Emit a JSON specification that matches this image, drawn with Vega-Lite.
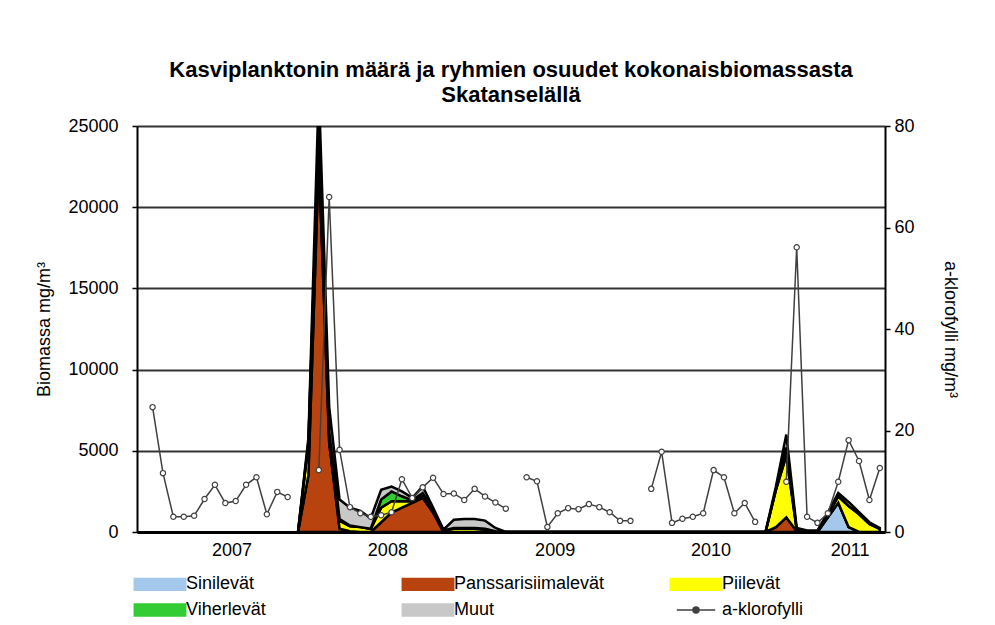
{
  "$schema": "https://vega.github.io/schema/vega-lite/v6.json",
  "width": 748,
  "height": 406,
  "autosize": "none",
  "padding": {"left": 137, "top": 126, "right": 110, "bottom": 93},
  "background": "white",
  "title": {
    "text": ["Kasviplanktonin määrä ja ryhmien osuudet kokonaisbiomassasta", "Skatanselällä"],
    "font": "Liberation Sans",
    "fontSize": 22,
    "fontWeight": "bold",
    "color": "black",
    "anchor": "middle",
    "lineHeight": 25,
    "offset": 10
  },
  "datasets": {
    "bio": [
      {"c": 15, "Sinilevät": 0, "Panssarisiimalevät": 0, "Piilevät": 0, "Viherlevät": 0, "Muut": 0},
      {"c": 16, "Sinilevät": 0, "Panssarisiimalevät": 3500, "Piilevät": 2000, "Viherlevät": 0, "Muut": 300},
      {"c": 17, "Sinilevät": 0, "Panssarisiimalevät": 23000, "Piilevät": 1500, "Viherlevät": 300, "Muut": 2500},
      {"c": 18, "Sinilevät": 0, "Panssarisiimalevät": 5500, "Piilevät": 600, "Viherlevät": 100, "Muut": 1500},
      {"c": 19, "Sinilevät": 0, "Panssarisiimalevät": 200, "Piilevät": 500, "Viherlevät": 100, "Muut": 1200},
      {"c": 20, "Sinilevät": 0, "Panssarisiimalevät": 50, "Piilevät": 300, "Viherlevät": 50, "Muut": 1100},
      {"c": 21, "Sinilevät": 0, "Panssarisiimalevät": 0, "Piilevät": 300, "Viherlevät": 0, "Muut": 1000},
      {"c": 22, "Sinilevät": 0, "Panssarisiimalevät": 0, "Piilevät": 200, "Viherlevät": 0, "Muut": 650},
      {"c": 23, "Sinilevät": 0, "Panssarisiimalevät": 600, "Piilevät": 900, "Viherlevät": 500, "Muut": 600},
      {"c": 24, "Sinilevät": 0, "Panssarisiimalevät": 1200, "Piilevät": 700, "Viherlevät": 600, "Muut": 300},
      {"c": 25, "Sinilevät": 0, "Panssarisiimalevät": 1500, "Piilevät": 400, "Viherlevät": 300, "Muut": 300},
      {"c": 26, "Sinilevät": 0, "Panssarisiimalevät": 1800, "Piilevät": 100, "Viherlevät": 50, "Muut": 150},
      {"c": 27, "Sinilevät": 0, "Panssarisiimalevät": 2100, "Piilevät": 200, "Viherlevät": 100, "Muut": 400},
      {"c": 28, "Sinilevät": 0, "Panssarisiimalevät": 1200, "Piilevät": 100, "Viherlevät": 0, "Muut": 200},
      {"c": 29, "Sinilevät": 0, "Panssarisiimalevät": 0, "Piilevät": 100, "Viherlevät": 0, "Muut": 50},
      {"c": 30, "Sinilevät": 0, "Panssarisiimalevät": 0, "Piilevät": 200, "Viherlevät": 50, "Muut": 500},
      {"c": 31, "Sinilevät": 0, "Panssarisiimalevät": 0, "Piilevät": 200, "Viherlevät": 50, "Muut": 550},
      {"c": 32, "Sinilevät": 0, "Panssarisiimalevät": 0, "Piilevät": 200, "Viherlevät": 50, "Muut": 550},
      {"c": 33, "Sinilevät": 0, "Panssarisiimalevät": 0, "Piilevät": 150, "Viherlevät": 50, "Muut": 500},
      {"c": 34, "Sinilevät": 0, "Panssarisiimalevät": 0, "Piilevät": 50, "Viherlevät": 0, "Muut": 200},
      {"c": 35, "Sinilevät": 0, "Panssarisiimalevät": 0, "Piilevät": 0, "Viherlevät": 0, "Muut": 0},
      {"c": 60, "Sinilevät": 0, "Panssarisiimalevät": 0, "Piilevät": 0, "Viherlevät": 0, "Muut": 0},
      {"c": 61, "Sinilevät": 0, "Panssarisiimalevät": 300, "Piilevät": 2300, "Viherlevät": 0, "Muut": 200},
      {"c": 62, "Sinilevät": 0, "Panssarisiimalevät": 900, "Piilevät": 3800, "Viherlevät": 500, "Muut": 800},
      {"c": 63, "Sinilevät": 0, "Panssarisiimalevät": 50, "Piilevät": 100, "Viherlevät": 0, "Muut": 100},
      {"c": 64, "Sinilevät": 0, "Panssarisiimalevät": 0, "Piilevät": 0, "Viherlevät": 0, "Muut": 100},
      {"c": 65, "Sinilevät": 0, "Panssarisiimalevät": 0, "Piilevät": 0, "Viherlevät": 0, "Muut": 100},
      {"c": 66, "Sinilevät": 900, "Panssarisiimalevät": 0, "Piilevät": 200, "Viherlevät": 0, "Muut": 100},
      {"c": 67, "Sinilevät": 1800, "Panssarisiimalevät": 0, "Piilevät": 400, "Viherlevät": 0, "Muut": 200},
      {"c": 68, "Sinilevät": 300, "Panssarisiimalevät": 0, "Piilevät": 1300, "Viherlevät": 0, "Muut": 250},
      {"c": 69, "Sinilevät": 0, "Panssarisiimalevät": 0, "Piilevät": 1100, "Viherlevät": 0, "Muut": 130},
      {"c": 70, "Sinilevät": 0, "Panssarisiimalevät": 0, "Piilevät": 500, "Viherlevät": 0, "Muut": 100},
      {"c": 71, "Sinilevät": 0, "Panssarisiimalevät": 0, "Piilevät": 200, "Viherlevät": 0, "Muut": 50}
    ],
    "chl": [
      {"c": 1, "k": 24.6}, {"c": 2, "k": 11.6}, {"c": 3, "k": 3.0}, {"c": 4, "k": 3.0},
      {"c": 5, "k": 3.2}, {"c": 6, "k": 6.5}, {"c": 7, "k": 9.3}, {"c": 8, "k": 5.7},
      {"c": 9, "k": 6.1}, {"c": 10, "k": 9.3}, {"c": 11, "k": 10.8}, {"c": 12, "k": 3.5},
      {"c": 13, "k": 7.9}, {"c": 14, "k": 6.9}, {"c": 15, "k": null}, {"c": 16, "k": null},
      {"c": 17, "k": 12.2}, {"c": 18, "k": 66.0}, {"c": 19, "k": 16.2}, {"c": 20, "k": 4.9},
      {"c": 21, "k": 3.7}, {"c": 22, "k": 3.0}, {"c": 23, "k": 3.3}, {"c": 24, "k": 3.9},
      {"c": 25, "k": 10.4}, {"c": 26, "k": 6.7}, {"c": 27, "k": 8.8}, {"c": 28, "k": 10.7},
      {"c": 29, "k": 7.5}, {"c": 30, "k": 7.6}, {"c": 31, "k": 6.3}, {"c": 32, "k": 8.5},
      {"c": 33, "k": 7.0}, {"c": 34, "k": 5.8}, {"c": 35, "k": 4.6}, {"c": 36, "k": null},
      {"c": 37, "k": 10.8}, {"c": 38, "k": 10.0}, {"c": 39, "k": 1.0}, {"c": 40, "k": 3.7},
      {"c": 41, "k": 4.7}, {"c": 42, "k": 4.5}, {"c": 43, "k": 5.5}, {"c": 44, "k": 4.9},
      {"c": 45, "k": 3.9}, {"c": 46, "k": 2.2}, {"c": 47, "k": 2.2}, {"c": 48, "k": null},
      {"c": 49, "k": 8.5}, {"c": 50, "k": 15.8}, {"c": 51, "k": 1.8}, {"c": 52, "k": 2.6},
      {"c": 53, "k": 3.0}, {"c": 54, "k": 3.7}, {"c": 55, "k": 12.2}, {"c": 56, "k": 10.8},
      {"c": 57, "k": 3.7}, {"c": 58, "k": 5.7}, {"c": 59, "k": 2.0}, {"c": 60, "k": null},
      {"c": 61, "k": null}, {"c": 62, "k": 9.9}, {"c": 63, "k": 56.1}, {"c": 64, "k": 3.0},
      {"c": 65, "k": 1.8}, {"c": 66, "k": 3.7}, {"c": 67, "k": 9.9}, {"c": 68, "k": 18.1},
      {"c": 69, "k": 14.0}, {"c": 70, "k": 6.3}, {"c": 71, "k": 12.6}
    ]
  },
  "layer": [
    {
      "data": {"name": "bio"},
      "transform": [
        {"fold": ["Sinilevät", "Panssarisiimalevät", "Piilevät", "Viherlevät", "Muut"], "as": ["ryhmä", "biomassa"]},
        {"window": [{"op": "row_number", "as": "j"}], "groupby": ["c"]}
      ],
      "mark": {"type": "area", "stroke": "black", "strokeWidth": 2.5, "clip": true, "opacity": 1},
      "encoding": {
        "x": {
          "field": "c", "type": "quantitative",
          "scale": {"domain": [-0.5, 71.5], "nice": false, "zero": false},
          "axis": {
            "values": [8.6, 23.6, 39.7, 54.7, 68.1],
            "labelExpr": "datum.value < 16 ? '2007' : datum.value < 31 ? '2008' : datum.value < 47 ? '2009' : datum.value < 61 ? '2010' : '2011'",
            "title": null, "ticks": false, "grid": false,
            "domainColor": "black", "domainWidth": 3,
            "labelFont": "Liberation Sans", "labelFontSize": 18, "labelColor": "black", "labelPadding": 9
          }
        },
        "y": {
          "field": "biomassa", "type": "quantitative", "stack": "zero",
          "scale": {"domain": [0, 25000], "nice": false},
          "axis": {
            "values": [0, 5000, 10000, 15000, 20000, 25000],
            "format": "d",
            "title": "Biomassa mg/m³",
            "grid": true, "gridColor": "#333333", "gridWidth": 2,
            "domainColor": "black", "domainWidth": 2,
            "tickColor": "black", "tickSize": 5, "tickWidth": 1.5,
            "labelFont": "Liberation Sans", "labelFontSize": 18, "labelColor": "black", "labelPadding": 14,
            "titleFont": "Liberation Sans", "titleFontSize": 18, "titleFontWeight": "normal", "titleColor": "black", "titlePadding": 14
          }
        },
        "color": {
          "field": "ryhmä", "type": "nominal",
          "scale": {
            "domain": ["Sinilevät", "Panssarisiimalevät", "Piilevät", "Viherlevät", "Muut", "a-klorofylli"],
            "range": ["#a4c8ec", "#b8430f", "#ffff00", "#33cc33", "#c8c8c8", "#404040"]
          },
          "legend": {
            "orient": "none", "legendX": 14, "legendY": 449,
            "direction": "horizontal", "columns": 3, "title": null,
            "gridAlign": "all", "columnPadding": 60, "rowPadding": 4,
            "symbolSize": 144, "labelOffset": 17,
            "symbolType": {"expr": "datum.value === 'a-klorofylli' ? 'M-3.2,0H3.2M-0.5,0a0.5,0.5 0 1,0 1,0a0.5,0.5 0 1,0 -1,0' : 'M-4.2,-0.9H4.2V0.9H-4.2Z'"},
            "symbolStrokeColor": {"expr": "['#1f3864','#4a1405','#5c5c00','#0b5e0b','#202020','#404040'][indexof(['Sinilevät','Panssarisiimalevät','Piilevät','Viherlevät','Muut','a-klorofylli'], datum.value)]"},
            "symbolStrokeWidth": {"expr": "datum.value === 'a-klorofylli' ? 1.5 : 2.5"},
            "labelFont": "Liberation Sans", "labelFontSize": 18, "labelColor": "black"
          }
        },
        "order": {"field": "j", "type": "quantitative", "sort": "ascending"}
      }
    },
    {
      "data": {"name": "chl"},
      "mark": {
        "type": "line", "strokeWidth": 1.5, "invalid": "break-paths-show-domains",
        "point": {"filled": false, "fill": "white", "size": 28, "strokeWidth": 1.2}
      },
      "encoding": {
        "x": {"field": "c", "type": "quantitative"},
        "y": {
          "field": "k", "type": "quantitative",
          "scale": {"domain": [0, 80], "nice": false},
          "axis": {
            "orient": "right",
            "values": [0, 20, 40, 60, 80],
            "title": "a-klorofylli mg/m³",
            "grid": false,
            "domainColor": "black", "domainWidth": 2,
            "tickColor": "black", "tickSize": 5, "tickWidth": 1.5,
            "labelFont": "Liberation Sans", "labelFontSize": 18, "labelColor": "black", "labelPadding": 4,
            "titleFont": "Liberation Sans", "titleFontSize": 18, "titleFontWeight": "normal", "titleColor": "black", "titlePadding": 26
          }
        },
        "color": {"datum": "a-klorofylli", "legend": null}
      }
    }
  ],
  "resolve": {"scale": {"y": "independent"}},
  "config": {"view": {"stroke": null}}
}
